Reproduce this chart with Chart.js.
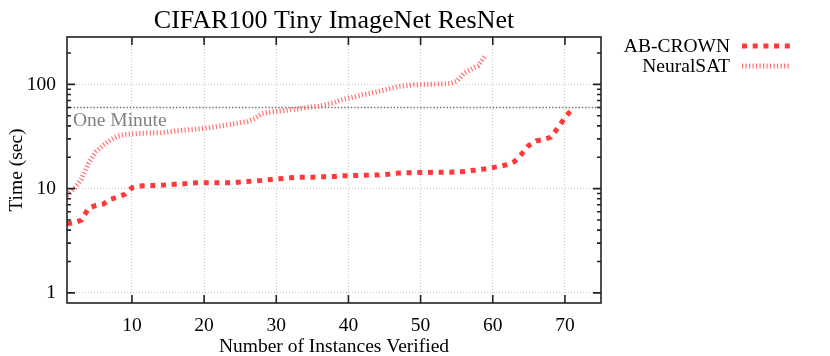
<!DOCTYPE html>
<html>
<head>
<meta charset="utf-8">
<script src="https://cdn.jsdelivr.net/npm/chart.js@4.4.1/dist/chart.umd.min.js"></script>
<style>
  html, body { margin: 0; padding: 0; background: #fff; }
  canvas { display: block; }
</style>
</head>
<body>
<canvas id="chart" width="830" height="356"></canvas>
<script>
// sorted solve times (sec) per verified instance
const abCrown = [
  4.6, 4.7, 5.0, 6.5, 6.9, 7.1, 7.9, 8.3, 8.8, 10.2,
  10.6, 10.7, 10.7, 10.8, 10.9, 11.0, 11.1, 11.3, 11.4, 11.4,
  11.4, 11.4, 11.4, 11.4, 11.6, 11.7, 11.9, 12.0, 12.2, 12.4,
  12.5, 12.7, 12.9, 12.9, 12.9, 13.0, 13.0, 13.1, 13.3, 13.3,
  13.4, 13.4, 13.5, 13.5, 13.6, 13.9, 14.1, 14.2, 14.2, 14.3,
  14.3, 14.4, 14.4, 14.4, 14.5, 14.6, 14.9, 15.1, 15.5, 15.9,
  16.4, 17.0, 18.2, 21.5, 26.0, 28.7, 29.6, 31.0, 38.0, 48.0,
  58.0
];
const neuralSat = [
  8.6, 10.0, 12.4, 17.6, 22.5, 26.0, 29.3, 31.8, 33.0, 33.5,
  33.8, 34.1, 34.3, 34.4, 35.0, 35.7, 36.3, 36.8, 37.3, 38.0,
  38.6, 39.6, 40.6, 41.7, 42.9, 44.2, 47.0, 52.5, 53.8, 55.0,
  56.0, 57.2, 58.3, 59.8, 61.0, 62.0, 64.0, 66.6, 71.0, 73.8,
  76.5, 79.5, 82.0, 85.0, 88.5, 92.0, 95.5, 97.5, 99.0, 99.8,
  100.2, 100.5, 101.0, 102.0, 107.0, 128.0, 140.0, 152.0, 190.0
];
const seriesNames = ["AB-CROWN", "NeuralSAT"];
const xTicks = [10, 20, 30, 40, 50, 60, 70];
const yTicks = [1, 10, 100];
const yMinorTicks = [2, 3, 4, 5, 6, 7, 8, 9, 20, 30, 40, 50, 60, 70, 80, 90, 200];
const oneMinute = 60;

const FONT = '"Liberation Serif", "DejaVu Serif", serif';
const abStyle = { color: "#ff3838", width: 5, dash: [5, 5.7] };
const nsStyle = { color: "rgba(255,70,70,0.75)", width: 5, dash: [1.2, 2.3] };

const toPoints = (arr) => arr.map((v, i) => ({ x: i + 1, y: v }));

const decor = {
  id: "decor",
  beforeDatasetsDraw(chart) {
    const { ctx, chartArea: a, scales: { y } } = chart;
    const py = y.getPixelForValue(oneMinute);
    ctx.save();
    ctx.strokeStyle = "#777";
    ctx.lineWidth = 1.5;
    ctx.setLineDash([1.5, 1.8]);
    ctx.beginPath();
    ctx.moveTo(a.left, py);
    ctx.lineTo(a.right, py);
    ctx.stroke();
    ctx.restore();
  },
  afterDraw(chart) {
    const { ctx, chartArea: a, scales: { x, y } } = chart;
    ctx.save();
    // frame
    ctx.strokeStyle = "#222";
    ctx.lineWidth = 1.6;
    ctx.strokeRect(a.left, a.top, a.right - a.left, a.bottom - a.top);
    // inward ticks
    ctx.beginPath();
    xTicks.forEach((v) => {
      const px = x.getPixelForValue(v);
      ctx.moveTo(px, a.bottom); ctx.lineTo(px, a.bottom - 8);
      ctx.moveTo(px, a.top); ctx.lineTo(px, a.top + 8);
    });
    yTicks.forEach((v) => {
      const py = y.getPixelForValue(v);
      ctx.moveTo(a.left, py); ctx.lineTo(a.left + 8, py);
      ctx.moveTo(a.right, py); ctx.lineTo(a.right - 8, py);
    });
    yMinorTicks.forEach((v) => {
      const py = y.getPixelForValue(v);
      if (py < a.top) return;
      ctx.moveTo(a.left, py); ctx.lineTo(a.left + 4, py);
      ctx.moveTo(a.right, py); ctx.lineTo(a.right - 4, py);
    });
    ctx.stroke();

    // one minute label
    ctx.fillStyle = "#808080";
    ctx.font = "19.5px " + FONT;
    ctx.textAlign = "left";
    ctx.textBaseline = "middle";
    ctx.fillText("One Minute", a.left + 6, y.getPixelForValue(oneMinute) + 13);

    // title
    ctx.fillStyle = "#000";
    ctx.font = "26px " + FONT;
    ctx.textAlign = "center";
    ctx.fillText("CIFAR100 Tiny ImageNet ResNet", (a.left + a.right) / 2, 21);

    // axis titles
    ctx.font = "19.5px " + FONT;
    ctx.fillText("Number of Instances Verified", (a.left + a.right) / 2, 347);
    ctx.save();
    ctx.translate(17, (a.top + a.bottom) / 2);
    ctx.rotate(-Math.PI / 2);
    ctx.fillText("Time (sec)", 0, 0);
    ctx.restore();

    // legend
    const legend = [
      [seriesNames[0], abStyle, 47],
      [seriesNames[1], nsStyle, 67],
    ];
    legend.forEach(([name, st, ly]) => {
      ctx.fillStyle = "#000";
      ctx.textAlign = "right";
      ctx.fillText(name, 730, ly);
      ctx.strokeStyle = st.color;
      ctx.lineWidth = st.width;
      ctx.lineCap = "butt";
      ctx.setLineDash(st.dash);
      ctx.beginPath();
      ctx.moveTo(742, ly - 1);
      ctx.lineTo(791, ly - 1);
      ctx.stroke();
      ctx.setLineDash([]);
    });
    ctx.restore();
  },
};

const chart = new Chart(document.querySelector("#chart"), {
  type: "line",
  data: {
    datasets: [
      {
        label: seriesNames[0],
        data: toPoints(abCrown),
        borderColor: abStyle.color,
        borderWidth: abStyle.width,
        borderDash: abStyle.dash,
        borderCapStyle: "butt",
        pointRadius: 0,
        tension: 0,
        fill: false,
      },
      {
        label: seriesNames[1],
        data: toPoints(neuralSat),
        borderColor: nsStyle.color,
        borderWidth: nsStyle.width,
        borderDash: nsStyle.dash,
        borderCapStyle: "butt",
        pointRadius: 0,
        tension: 0,
        fill: false,
      },
    ],
  },
  options: {
    responsive: false,
    animation: false,
    layout: { padding: { top: 37, right: 229, left: 0, bottom: 0 } },
    plugins: {
      legend: { display: false },
      title: { display: false },
      tooltip: { enabled: false },
    },
    scales: {
      x: {
        type: "linear",
        min: 1,
        max: 75,
        afterBuildTicks: (s) => { s.ticks = xTicks.map((v) => ({ value: v })); },
        afterFit: (s) => { s.height = 53; },
        grid: { color: "#c8c8c8", lineWidth: 1, drawTicks: false },
        border: { display: false, dash: [1, 2] },
        ticks: {
          padding: 11,
          color: "#000",
          font: { family: FONT, size: 19.5 },
          maxRotation: 0,
          callback: (v) => String(v),
        },
      },
      y: {
        type: "logarithmic",
        min: 0.8,
        max: 285,
        afterBuildTicks: (s) => { s.ticks = yTicks.map((v) => ({ value: v })); },
        afterFit: (s) => { s.width = 67; },
        grid: { color: "#c8c8c8", lineWidth: 1, drawTicks: false },
        border: { display: false, dash: [1, 2] },
        ticks: {
          padding: 11,
          color: "#000",
          font: { family: FONT, size: 19.5 },
          callback: (v) => String(v),
        },
      },
    },
  },
  plugins: [decor],
});
</script>
</body>
</html>
